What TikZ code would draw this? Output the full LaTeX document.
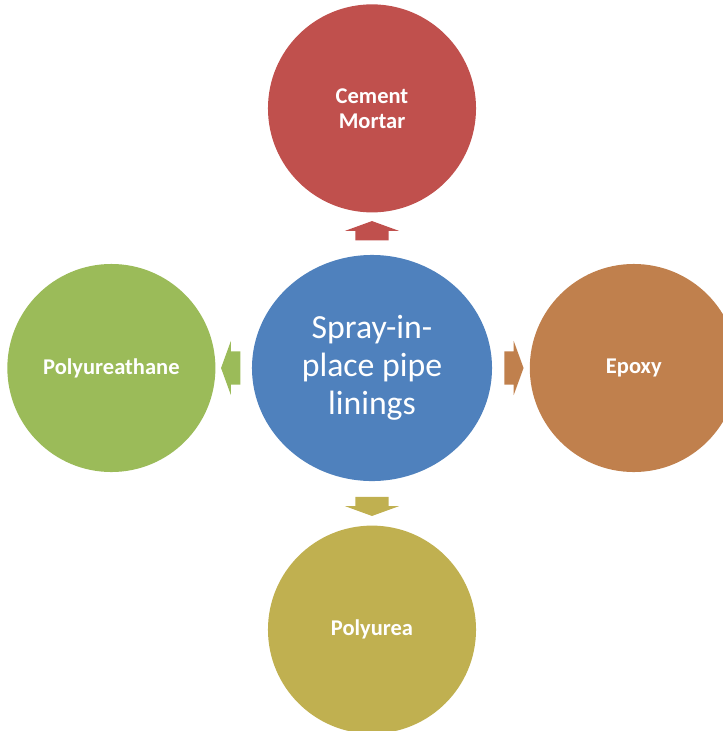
\documentclass[tikz,border=0pt]{standalone}
\usepackage{fontspec}
\setmainfont{Carlito}
\usetikzlibrary{positioning, calc, shapes.geometric, shapes.arrows}

\definecolor{mortarred}{HTML}{C0504D}
\definecolor{hubblue}{HTML}{4F81BD}
\definecolor{urethgreen}{HTML}{9BBB59}
\definecolor{epoxybrown}{HTML}{C0804D}
\definecolor{ureaolive}{HTML}{C0B050}

\tikzset{
  hub/.style = {ellipse, fill=hubblue, text=white, minimum width=6cm, minimum height=5.65cm,
                align=center, font=\fontsize{24}{27}\selectfont},
  lining/.style = {circle, fill=#1, text=white, minimum size=5.2cm, inner sep=0pt,
                   align=center, font=\fontsize{16}{18}\selectfont\bfseries},
  blockarrow/.style = {single arrow, fill=#1, draw=none, inner xsep=0pt, inner ysep=0.41cm,
                       minimum width=1.35cm, minimum height=0.48cm,
                       single arrow head extend=0.26cm, single arrow tip angle=140},
  upright/.style = {inner xsep=0.41cm, inner ysep=0pt}
}

\begin{document}
\begin{tikzpicture}[x=0.025cm, y=-0.025cm]
            \useasboundingbox (0,0) rectangle (723,731);
            \clip (0,0) rectangle (723,731);

            \node[hub] (hub) at (372,368) {Spray-in-\\place pipe\\linings};
            \node[lining=mortarred]  (mortar) [above = 1.05cm of hub] {Cement\\Mortar};
            \node[lining=urethgreen] (poly)   [left = 0.9cm of hub]   {Polyureathane};
            \node[lining=epoxybrown] (epoxy)  [right = 0.93cm of hub] {Epoxy};
            \node[lining=ureaolive]  (urea)   [below = 1.1cm of hub]  {Polyurea};

            % block arrows between the hub and the four linings
            \node[blockarrow=mortarred, upright, shape border rotate=90]  (toMortar) at ($(hub.north)!0.5!(mortar.south)$) {};
            \node[blockarrow=urethgreen, shape border rotate=180]         (toPoly)   at ($(hub.west)!0.5!(poly.east)$)     {};
            \node[blockarrow=epoxybrown, shape border rotate=0]           (toEpoxy)  at ($(hub.east)!0.5!(epoxy.west)$)    {};
            \node[blockarrow=ureaolive, upright, shape border rotate=270] (toUrea)   at ($(hub.south)!0.5!(urea.north)$)   {};
          \end{tikzpicture}
\end{document}
